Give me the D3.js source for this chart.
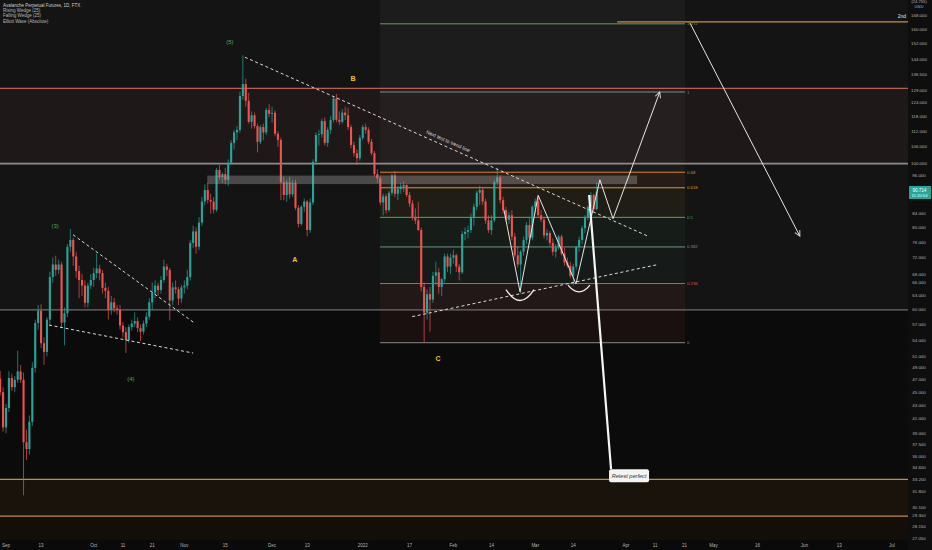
<!DOCTYPE html>
<html><head><meta charset="utf-8">
<script src="https://cdn.jsdelivr.net/npm/d3@7"></script>
<style>html,body{margin:0;padding:0;background:#0b0b0b;overflow:hidden}svg{display:block;font-family:"Liberation Sans",Arial,sans-serif}</style>
</head><body><svg id="c" width="932" height="550"></svg>
<script>
// ---------- DATA ----------
const startDate = "2021-08-30";
const aug = [[47.2,48.5,44.5,45.0],[45.0,45.8,39.2,39.8]];
const sep = [[39.8,43.2,39.0,42.6],[42.6,48.4,42.0,47.3],[47.3,48.0,45.2,45.8],[45.8,47.6,45.0,47.0],[47.0,52.0,46.5,48.4],[48.4,49.5,46.5,47.0],[47.0,48.2,31.4,37.8],[37.8,39.5,35.5,36.9],[36.9,41.5,36.2,40.6],[40.6,50.0,40.0,49.0],[49.0,58.0,48.2,57.3],[57.3,61.0,56.0,59.8],[59.8,61.2,52.5,53.4],[53.4,54.5,49.5,51.8],[51.8,58.5,51.0,58.0],[58.0,68.5,57.0,67.3],[67.3,72.0,66.0,70.3],[70.3,72.5,67.5,69.0],[69.0,71.5,68.0,70.3],[70.3,71.0,56.5,57.4],[57.4,60.5,53.0,59.3],[59.3,75.5,58.5,74.8],[74.8,79.6,73.5,76.6],[76.6,77.2,70.0,72.3],[72.3,73.5,67.0,68.7],[68.7,70.0,62.5,66.6],[66.6,68.0,63.0,65.3],[65.3,66.5,60.5,61.5],[61.5,66.0,60.5,65.3],[65.3,68.0,64.5,66.6]];
const oct = [[66.6,69.5,65.0,68.2],[68.2,73.0,67.0,69.3],[69.3,70.2,66.5,68.2],[68.2,69.0,63.5,64.8],[64.8,66.0,62.5,64.1],[64.1,65.0,58.0,60.0],[60.0,63.0,59.0,61.6],[61.6,62.5,59.5,60.3],[60.3,61.0,59.0,60.0],[60.0,61.0,56.0,56.8],[56.8,57.5,54.5,55.5],[55.5,56.5,51.6,54.0],[54.0,57.0,53.5,56.5],[56.5,58.0,55.8,57.2],[57.2,59.5,56.5,57.7],[57.7,58.5,55.5,56.3],[56.3,57.0,53.8,55.6],[55.6,57.8,55.0,57.2],[57.2,59.5,56.5,58.6],[58.6,62.5,58.0,61.6],[61.6,66.0,60.0,63.7],[63.7,66.5,62.5,65.3],[65.3,66.0,63.0,64.3],[64.3,67.5,63.5,66.6],[66.6,71.5,66.0,69.8],[69.8,70.5,67.5,69.0],[69.0,69.5,57.8,62.0],[62.0,66.0,61.0,64.9],[64.9,66.5,63.5,64.5],[64.5,65.0,61.0,62.4],[62.4,65.5,61.5,64.9]];
const nov = [[64.9,66.5,63.5,65.3],[65.3,69.0,64.5,67.3],[67.3,76.5,66.5,75.8],[75.8,80.5,74.5,78.9],[78.9,80.0,73.0,74.8],[74.8,83.0,74.0,81.4],[81.4,89.0,80.5,87.6],[87.6,93.0,86.5,91.2],[91.2,93.5,87.0,88.1],[88.1,90.0,84.0,87.6],[87.6,89.0,84.0,85.1],[85.1,98.5,84.5,97.8],[97.8,99.5,94.5,95.4],[95.4,97.0,93.5,96.4],[96.4,98.5,93.0,94.5],[94.5,101.5,92.5,100.3],[100.3,108.5,99.5,107.5],[107.5,112.5,105.0,111.5],[111.5,114.0,108.5,112.5],[112.5,128.5,111.5,126.6],[126.6,146.0,125.0,132.0],[132.0,134.5,122.0,124.5],[124.5,128.0,115.0,115.7],[115.7,120.0,113.0,118.4],[118.4,119.5,113.0,114.0],[114.0,115.0,104.0,107.9],[107.9,114.5,107.0,113.6],[113.6,115.0,108.5,111.5],[111.5,121.5,110.5,120.6],[120.6,123.0,117.5,119.0]];
const dec = [[119.0,122.0,115.5,119.4],[119.4,120.5,110.0,111.0],[111.0,112.0,106.0,108.6],[108.6,109.5,88.0,93.7],[93.7,95.5,88.0,89.6],[89.6,94.5,87.5,93.7],[93.7,95.5,88.5,89.8],[89.8,94.5,89.0,93.5],[93.5,94.5,85.0,85.7],[85.7,86.5,80.0,81.0],[81.0,86.5,80.5,86.0],[86.0,88.5,84.5,87.6],[87.6,88.0,77.5,79.3],[79.3,88.5,78.5,87.3],[87.3,101.5,86.5,100.6],[100.6,111.5,99.5,110.5],[110.5,112.5,106.5,110.8],[110.8,117.0,109.5,116.0],[116.0,117.5,106.5,107.5],[107.5,113.5,106.0,112.5],[112.5,118.0,111.0,116.5],[116.5,126.5,115.5,125.5],[125.5,127.5,115.5,116.5],[116.5,120.0,114.5,115.7],[115.7,121.0,115.0,119.5],[119.5,122.0,116.5,118.4],[118.4,121.5,112.5,113.6],[113.6,114.5,105.5,106.7],[106.7,108.0,102.5,103.7],[103.7,105.0,99.5,101.9],[101.9,110.5,101.0,109.4]];
const jan = [[109.4,114.5,108.5,113.6],[113.6,115.0,111.0,112.5],[112.5,113.5,107.0,107.9],[107.9,109.0,103.0,103.7],[103.7,104.5,95.5,96.4],[96.4,98.0,93.5,95.0],[95.0,96.0,86.5,87.3],[87.3,90.0,83.5,89.2],[89.2,90.0,84.0,85.0],[85.0,91.0,84.5,90.3],[90.3,96.5,89.5,96.0],[96.0,97.5,89.0,90.0],[90.0,92.5,88.0,91.5],[91.5,93.5,90.0,92.3],[92.3,94.0,90.5,92.8],[92.8,93.0,89.0,89.6],[89.6,90.5,86.0,87.0],[87.0,88.0,82.0,83.0],[83.0,85.5,81.0,82.0],[82.0,87.5,79.0,79.3],[79.3,80.0,64.0,65.0],[65.0,66.0,53.5,59.4],[59.4,64.5,58.0,63.4],[63.4,65.0,55.6,62.2],[62.2,68.5,61.5,67.6],[67.6,71.0,65.5,68.4],[68.4,69.5,63.5,65.0],[65.0,67.0,63.0,66.8],[66.8,73.0,66.0,72.3],[72.3,73.0,68.5,69.8],[69.8,73.0,68.0,72.0]];
const feb = [[72.0,74.0,70.5,72.6],[72.6,73.0,68.5,69.8],[69.8,70.5,66.5,68.4],[68.4,79.0,68.0,78.2],[78.2,80.0,76.5,78.8],[78.8,80.5,77.0,79.3],[79.3,84.0,78.5,83.0],[83.0,87.0,80.5,86.0],[86.0,91.0,85.0,90.3],[90.3,92.5,86.5,91.2],[91.2,92.0,86.5,87.6],[87.6,88.5,81.0,82.0],[82.0,83.5,78.5,79.3],[79.3,83.5,78.0,82.0],[82.0,94.5,81.5,93.7],[93.7,98.6,92.5,95.3],[95.3,96.0,87.0,88.0],[88.0,89.0,84.0,85.0],[85.0,86.0,81.5,82.2],[82.2,84.5,81.0,83.5],[83.5,85.0,76.5,77.5],[77.5,78.5,72.0,72.6],[72.6,75.0,69.5,70.3],[70.3,74.0,63.5,73.5],[73.5,77.5,72.5,76.6],[76.6,81.5,75.5,80.7],[80.7,83.0,76.5,77.2],[77.2,86.5,76.5,86.0]];
const mar = [[86.0,88.5,84.0,87.6],[87.6,89.2,83.0,83.5],[83.5,85.0,81.5,82.2],[82.2,83.0,77.0,77.8],[77.8,79.5,76.5,78.5],[78.5,79.0,75.0,75.8],[75.8,77.0,72.5,73.5],[73.5,75.5,72.0,74.6],[74.6,78.0,74.0,77.5],[77.5,78.0,72.5,73.0],[73.0,74.5,70.0,70.8],[70.8,72.0,69.5,70.0],[70.0,71.0,67.0,67.6],[67.6,70.5,65.3,69.8],[69.8,75.0,69.0,74.8],[74.8,77.5,73.5,76.6],[76.6,80.5,75.5,79.8],[79.8,83.5,78.5,83.0],[83.0,86.5,82.0,86.0],[86.0,90.5,84.5,89.6],[89.6,90.0,84.8,85.3],[85.3,93.7,85.0,90.714]];

const priceTicks = [168,160,152,144,136.5,129,124,118,112,106,100,96,91,84,80,76,72,68,66,63,60,57,54,51,49,47,45,43,41,39,37.5,36,34.6,33.2,31.8,30.1,29.3,28.15,27.05];
const timeTicks = [["2021-09-01","Sep"],["2021-09-13","13"],["2021-10-01","Oct"],["2021-10-11","11"],["2021-10-21","21"],["2021-11-01","Nov"],["2021-11-15","15"],["2021-12-01","Dec"],["2021-12-13","13"],["2022-01-01","2022"],["2022-01-17","17"],["2022-02-01","Feb"],["2022-02-14","14"],["2022-03-01","Mar"],["2022-03-14","14"],["2022-04-01","Apr"],["2022-04-11","11"],["2022-04-21","21"],["2022-05-01","May"],["2022-05-16","16"],["2022-06-01","Jun"],["2022-06-13","13"],["2022-07-01","Jul"]];
const legendLines = ["Avalanche Perpetual Futures, 1D, FTX","Rising Wedge (25)","Falling Wedge (25)","Elliott Wave (Absolute)"];
const lastPrice = 90.714;
const countdown = "11:20:54";

// horizontal levels
const resistanceBand = [130, 100];
const levelGray = [100, 60];
const supportLevels = [33.2, 29.2];
const targetLine = {from:"2022-03-29", price:164.0, label:"2nd"};
const grayZone = {from:"2021-11-08T20:00", to:"2022-04-04T20:00", top:95.9, bottom:93.1};

// fib retracement (log)
const fibAnchor = {from:"2022-01-06T22:00", to:"2022-04-21T05:00", p0:53.5, p1:128.4};
const fibLevels = [1.272, 1, 0.68, 0.618, 0.5, 0.382, 0.236, 0];

// dashed trend lines [[date,price],[date,price]]
const trendLines = [
  [["2021-09-23T22:00",78.0],["2021-11-04T00:00",57.5]],
  [["2021-09-15T17:00",56.9],["2021-11-04T00:00",51.6]],
  [["2021-11-21T17:00",145.0],["2022-04-08T14:00",77.6]],
  [["2022-01-17T22:00",58.6],["2022-04-12T00:00",70.3]]
];
// projected zigzag path
const zigzag = [["2022-02-18T07:00",85.1],["2022-02-23T19:00",63.9],["2022-03-02T00:00",89.5],["2022-03-14T22:00",65.7],["2022-03-23T02:00",94.5],["2022-03-27T14:00",82.5]];
const arrows = [
  [["2022-03-27T14:00",82.5],["2022-04-12T14:00",128.4]],
  [["2022-04-22T22:00",163.4],["2022-05-30T12:00",77.6]]
];
const smiles = [
  {from:"2022-02-19T00:00", to:"2022-02-28T14:00", top:64.4, bottom:62.0},
  {from:"2022-03-12T05:00", to:"2022-03-19T17:00", top:65.4, bottom:63.9}
];
const retest = {from:["2022-03-19T10:00",89.6], to:["2022-03-26T22:00",34.4], text:"Retest perfect"};
const waveLabels = [
  {t:"(3)", d:"2021-09-17T19:00", p:80.4, kind:"impulse"},
  {t:"(4)", d:"2021-10-13T17:00", p:47.2, kind:"impulse"},
  {t:"(5)", d:"2021-11-16T14:00", p:152.9, kind:"impulse"},
  {t:"A", d:"2021-12-08T19:00", p:71.5, kind:"corr"},
  {t:"B", d:"2021-12-28T17:00", p:134.8, kind:"corr"},
  {t:"C", d:"2022-01-26T17:00", p:50.7, kind:"corr"}
];
const noteText = {t:"Next test to trend line", d:"2022-01-30T05:00", p:108.2};

// ---------- CHART ----------
const W = 932, H = 550, plotR = 908, plotB = 540;
const svg = d3.select("#c");
const x = d3.scaleUtc().domain([new Date("2021-09-01"), new Date("2022-07-01")]).range([6, 892]);
const y = d3.scaleLog().domain([27.05, 160]).range([538, 29]);
const X = s => x(new Date(s));
const up = "#26a69a", dn = "#ef5350";

const defs = svg.append("defs");
defs.append("clipPath").attr("id","plot").append("rect").attr("x",0).attr("y",0).attr("width",plotR).attr("height",plotB);
defs.append("marker").attr("id","arr").attr("viewBox","0 0 10 10").attr("refX",9).attr("refY",5)
  .attr("markerWidth",7).attr("markerHeight",7).attr("orient","auto-start-reverse").attr("markerUnits","userSpaceOnUse")
  .append("path").attr("d","M1,1 L9,5 L1,9").attr("fill","none").attr("stroke","#e6e6e6").attr("stroke-width",1.3);

svg.append("rect").attr("width",W).attr("height",H).attr("fill","#0b0b0b");
const g = svg.append("g").attr("clip-path","url(#plot)");

// backgrounds
g.append("rect").attr("x",0).attr("y",0).attr("width",plotR).attr("height",y(levelGray[1])).attr("fill","#141414");
g.append("rect").attr("x",0).attr("y",y(resistanceBand[0])).attr("width",plotR).attr("height",y(resistanceBand[1])-y(resistanceBand[0])).attr("fill","#1e1918");
g.append("rect").attr("x",0).attr("y",y(supportLevels[0])).attr("width",plotR).attr("height",y(supportLevels[1])-y(supportLevels[0])).attr("fill","#1a130b");
g.append("rect").attr("x",0).attr("y",y(supportLevels[1])).attr("width",plotR).attr("height",plotB-y(supportLevels[1])).attr("fill","#140e09");

// fib
const fx0 = X(fibAnchor.from), fx1 = X(fibAnchor.to);
const fibPrice = l => Math.exp(Math.log(fibAnchor.p0) + l*(Math.log(fibAnchor.p1)-Math.log(fibAnchor.p0)));
const fibLine = {"1.272":"#6f9a5c","1":"#8a8a8a","0.68":"#d9882b","0.618":"#d99a2b","0.5":"#4caf50","0.382":"#6b9a86","0.236":"#e0524e","0":"#8a8a8a"};
const fibFill = {"1.272":"rgba(255,255,255,0.035)","1":"rgba(255,255,255,0.03)","0.68":"rgba(230,110,60,0.10)","0.618":"rgba(200,150,60,0.07)","0.5":"rgba(76,175,80,0.06)","0.382":"rgba(80,160,120,0.05)","0.236":"rgba(239,83,80,0.07)"};
g.append("rect").attr("x",fx0).attr("y",0).attr("width",fx1-fx0).attr("height",y(fibPrice(1.272))).attr("fill","rgba(255,255,255,0.035)");
fibLevels.forEach((l,i)=>{
  if(i<fibLevels.length-1){
    const a=y(fibPrice(l)), b=y(fibPrice(fibLevels[i+1]));
    g.append("rect").attr("x",fx0).attr("y",a).attr("width",fx1-fx0).attr("height",b-a).attr("fill",fibFill[String(l)]);
  }
});

// full-width horizontal lines
g.append("line").attr("x1",0).attr("x2",plotR).attr("y1",y(resistanceBand[0])).attr("y2",y(resistanceBand[0])).attr("stroke","#b8604f").attr("stroke-width",1.2);
levelGray.forEach((p,i)=>g.append("line").attr("x1",0).attr("x2",plotR).attr("y1",y(p)).attr("y2",y(p)).attr("stroke",i?"#6e6e6e":"#8c8c8c").attr("stroke-width",i?1.3:1.8));
supportLevels.forEach(p=>g.append("line").attr("x1",0).attr("x2",plotR).attr("y1",y(p)).attr("y2",y(p)).attr("stroke","#c98a45").attr("stroke-width",1.1));

fibLevels.forEach(l=>{
  const yy=y(fibPrice(l));
  g.append("line").attr("x1",fx0).attr("x2",fx1).attr("y1",yy).attr("y2",yy).attr("stroke",fibLine[String(l)]).attr("stroke-width",1);
  g.append("text").attr("x",fx1+2).attr("y",yy).attr("dy","0.35em").attr("font-size",4.3).attr("fill",fibLine[String(l)]).text(String(l));
});
// target line
g.append("line").attr("x1",X(targetLine.from)).attr("x2",plotR).attr("y1",y(targetLine.price)).attr("y2",y(targetLine.price)).attr("stroke","#c8903a").attr("stroke-width",1.2);
g.append("text").attr("x",plotR-2).attr("y",y(targetLine.price)-4).attr("text-anchor","end").attr("font-size",5).attr("fill","#e6e6e6").text(targetLine.label);

// candles
const months=[aug,sep,oct,nov,dec,jan,feb,mar];
const candles = months.flat().map((r,i)=>({date:d3.utcDay.offset(new Date(startDate),i),o:r[0],h:r[1],l:r[2],c:r[3]}));
const cg = g.append("g");
cg.selectAll("line.w").data(candles).join("line").attr("class","w")
  .attr("x1",d=>x(d.date)).attr("x2",d=>x(d.date)).attr("y1",d=>y(d.h)).attr("y2",d=>y(d.l))
  .attr("stroke",d=>d.c>=d.o?up:dn).attr("stroke-width",0.7);
cg.selectAll("rect.b").data(candles).join("rect").attr("class","b")
  .attr("x",d=>x(d.date)-1.05).attr("width",2.1)
  .attr("y",d=>Math.min(y(d.o),y(d.c))).attr("height",d=>Math.max(0.7,Math.abs(y(d.o)-y(d.c))))
  .attr("fill",d=>d.c>=d.o?up:dn);

// gray zone
g.append("rect").attr("x",X(grayZone.from)).attr("y",y(grayZone.top)).attr("width",X(grayZone.to)-X(grayZone.from)).attr("height",y(grayZone.bottom)-y(grayZone.top)).attr("fill","rgba(160,160,160,0.38)");

// trend lines
trendLines.forEach(t=>g.append("line").attr("x1",X(t[0][0])).attr("y1",y(t[0][1])).attr("x2",X(t[1][0])).attr("y2",y(t[1][1]))
  .attr("stroke","#dcdcdc").attr("stroke-width",1).attr("stroke-dasharray","3,2.6"));

// zigzag + arrows
g.append("path").attr("d",d3.line().x(d=>X(d[0])).y(d=>y(d[1]))(zigzag)).attr("fill","none").attr("stroke","#e6e6e6").attr("stroke-width",1);
arrows.forEach(a=>g.append("line").attr("x1",X(a[0][0])).attr("y1",y(a[0][1])).attr("x2",X(a[1][0])).attr("y2",y(a[1][1]))
  .attr("stroke","#e6e6e6").attr("stroke-width",1).attr("marker-end","url(#arr)"));
smiles.forEach(s=>{
  const x0=X(s.from), x1=X(s.to), yt=y(s.top), yb=y(s.bottom);
  g.append("path").attr("d",`M${x0},${yt} Q${(x0+x1)/2},${yb+(yb-yt)} ${x1},${yt}`).attr("fill","none").attr("stroke","#f0f0f0").attr("stroke-width",1.3);
});
// retest callout
const rx0=X(retest.from[0]), ry0=y(retest.from[1]), rx1=X(retest.to[0]), ry1=y(retest.to[1]);
g.append("line").attr("x1",rx0).attr("y1",ry0).attr("x2",rx1).attr("y2",ry1).attr("stroke","#f5f5f5").attr("stroke-width",2.2);
g.append("rect").attr("x",rx1-2).attr("y",ry1).attr("width",40).attr("height",13).attr("rx",2).attr("fill","#f4f4f4");
g.append("text").attr("x",rx1+18).attr("y",ry1+6.8).attr("text-anchor","middle").attr("dominant-baseline","central")
  .attr("font-size",5.6).attr("font-style","italic").attr("fill","#333").text(retest.text);

// wave labels
waveLabels.forEach(w=>g.append("text").attr("x",X(w.d)).attr("y",y(w.p)).attr("text-anchor","middle").attr("dominant-baseline","central")
  .attr("font-size",w.kind==="impulse"?6:7).attr("font-weight",w.kind==="impulse"?"normal":"bold").attr("fill",w.kind==="impulse"?"#3fb34f":"#efc41c").text(w.t));
const ang = Math.atan2(y(trendLines[2][1][1])-y(trendLines[2][0][1]), X(trendLines[2][1][0])-X(trendLines[2][0][0]))*180/Math.PI;
g.append("text").attr("transform",`translate(${X(noteText.d)},${y(noteText.p)}) rotate(${ang})`).attr("text-anchor","middle").attr("dominant-baseline","central")
  .attr("font-size",5).attr("fill","#d8d8d8").text(noteText.t);

// legend
legendLines.forEach((t,i)=>svg.append("text").attr("x",3).attr("y",7+i*5.2).attr("font-size",4.5).attr("fill",i?"#b8b8b8":"#cfcfcf").text(t));

// right axis
svg.append("rect").attr("x",plotR).attr("y",0).attr("width",W-plotR).attr("height",H).attr("fill","#0e0e0e");
const fmt = d3.format(".3f");
svg.append("g").selectAll("text").data(priceTicks).join("text").attr("x",919).attr("y",d=>y(d)).attr("dy","0.35em").attr("text-anchor","middle")
  .attr("font-size",4.4).attr("fill","#b4b4b4").text(d=>fmt(d));
svg.append("text").attr("x",919).attr("y",3).attr("text-anchor","middle").attr("font-size",4.2).attr("fill","#b4b4b4").text("(24.755)");
svg.append("text").attr("x",919).attr("y",7.5).attr("text-anchor","middle").attr("font-size",4.2).attr("fill","#b4b4b4").text("USD");
const ly=y(lastPrice);
svg.append("rect").attr("x",plotR+1).attr("y",ly-5.5).attr("width",22).attr("height",13).attr("fill",up);
svg.append("text").attr("x",919.5).attr("y",ly-1.5).attr("dy","0.35em").attr("text-anchor","middle").attr("font-size",4.5).attr("fill","#fff").text(fmt(lastPrice));
svg.append("text").attr("x",919.5).attr("y",ly+3.8).attr("dy","0.35em").attr("text-anchor","middle").attr("font-size",4.2).attr("fill","#e8fff8").text(countdown);

// bottom axis
svg.append("rect").attr("x",0).attr("y",plotB).attr("width",plotR).attr("height",H-plotB).attr("fill","#0a0a0a");
svg.append("g").selectAll("text").data(timeTicks).join("text").attr("x",d=>X(d[0])).attr("y",545.5).attr("dy","0.35em").attr("text-anchor","middle")
  .attr("font-size",4.5).attr("fill","#b4b4b4").text(d=>d[1]);
</script></body></html>
